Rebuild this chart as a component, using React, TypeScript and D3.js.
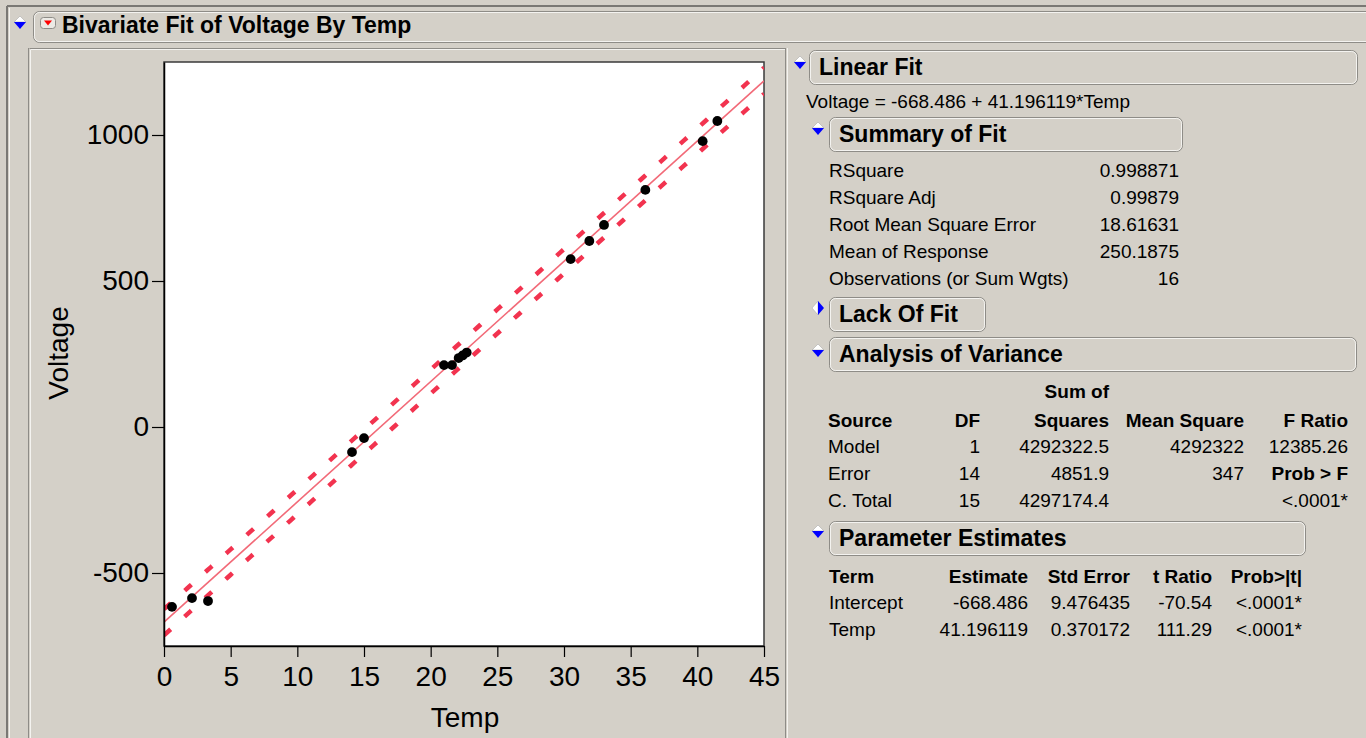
import { useRef, useEffect } from 'react';
import * as d3 from 'd3';

// observed points
const temp = [0.6, 2.1, 3.3, 14.1, 15.0, 21.0, 21.6, 22.1, 22.4, 22.7, 30.5, 31.9, 33.0, 36.1, 40.4, 41.5];
const voltage = [-616, -586, -596, -86, -38, 212, 212, 236, 245, 255, 575, 637, 692, 812, 979, 1048];

const xTicks = [0, 5, 10, 15, 20, 25, 30, 35, 40, 45];
const yTicks = [-500, 0, 500, 1000];

// report tables
const summaryLabels = ['RSquare', 'RSquare Adj', 'Root Mean Square Error', 'Mean of Response', 'Observations (or Sum Wgts)'];
const summaryValues = ['0.998871', '0.99879', '18.61631', '250.1875', '16'];

const anovaSources = ['Model', 'Error', 'C. Total'];
const anovaDF = ['1', '14', '15'];
const anovaSS = ['4292322.5', '4851.9', '4297174.4'];
const anovaMS = ['4292322', '347', ''];
const anovaF = ['12385.26', 'Prob > F', '<.0001*'];

const paramTerms = ['Intercept', 'Temp'];
const paramEstimates = ['-668.486', '41.196119'];
const paramStdErr = ['9.476435', '0.370172'];
const paramT = ['-70.54', '111.29'];
const paramProb = ['<.0001*', '<.0001*'];

const intercept = -668.486;
const slope = 41.196119;
const rmse = 18.61631;
const nObs = 16;
const meanResp = 250.1875;
const ssModel = 4292322.5;
const tCrit = 2.1448; // t(.975, 14)

const BG = '#d4d0c8';
const FONT = '"Liberation Sans", Arial, sans-serif';

function Disclosure({ cx, cy, open = true }: { cx: number; cy: number; open?: boolean }) {
  if (open) {
    return (
      <g>
        <polygon points={`${cx - 6},${cy} ${cx},${cy - 6} ${cx + 6},${cy}`} fill="#fff" stroke="#aaa" strokeWidth={0.6} />
        <polygon points={`${cx - 6},${cy} ${cx + 6},${cy} ${cx},${cy + 7}`} fill="#0000ff" />
      </g>
    );
  }
  return (
    <g>
      <polygon points={`${cx},${cy - 7} ${cx - 6},${cy} ${cx},${cy + 7}`} fill="#fff" stroke="#aaa" strokeWidth={0.6} />
      <polygon points={`${cx},${cy - 7} ${cx + 6},${cy} ${cx},${cy + 7}`} fill="#0000ff" />
    </g>
  );
}

function HeaderBox({ x, y, w, h, label, textX }: { x: number; y: number; w: number; h: number; label: string; textX?: number }) {
  return (
    <g>
      <rect x={x + 0.5} y={y + 0.5} width={w} height={h} rx={6} fill={BG} stroke="#8e8c87" />
      <rect x={x + 1.5} y={y + 1.5} width={w - 2} height={h - 2} rx={5} fill="none" stroke="#f4f3f0" />
      <text x={textX ?? x + 10} y={y + h - 9} fontFamily={FONT} fontWeight="bold" fontSize={23} fill="#000">{label}</text>
    </g>
  );
}

const txt = (x: number, y: number, s: string, anchor = 'start', bold = false) => (
  <text key={`${x}-${y}-${s}`} x={x} y={y} textAnchor={anchor} fontFamily={FONT} fontSize={19} fontWeight={bold ? 'bold' : 'normal'} fill="#000">{s}</text>
);

export default function App() {
  const plotRef = useRef<SVGGElement>(null);

  useEffect(() => {
    if (!plotRef.current) return;
    const g = d3.select(plotRef.current);
    g.selectAll('*').remove();

    const x = d3.scaleLinear().domain([0, 45]).range([164, 764]);
    const y = d3.scaleLinear().domain([-750, 1250]).range([646, 62]);

    // plot frame
    g.append('rect')
      .attr('x', 164).attr('y', 62)
      .attr('width', 600).attr('height', 584)
      .attr('fill', '#fff')
      .attr('stroke', '#3a3a3a').attr('stroke-width', 1.5);

    g.append('clipPath').attr('id', 'plotclip')
      .append('rect').attr('x', 164).attr('y', 62).attr('width', 600).attr('height', 584);

    const xbar = (meanResp - intercept) / slope;
    const sxx = ssModel / (slope * slope);
    const fit = (t: number) => intercept + slope * t;
    const half = (t: number) => tCrit * rmse * Math.sqrt(1 + 1 / nObs + (t - xbar) ** 2 / sxx);
    const xs = d3.range(0, 45.001, 0.25);

    const line = d3.line<number>().x(d => x(d));
    const clip = g.append('g').attr('clip-path', 'url(#plotclip)');

    // individual prediction bands
    [1, -1].forEach(sgn => {
      clip.append('path')
        .attr('d', line.y(d => y(fit(d) + sgn * half(d)))(xs))
        .attr('fill', 'none')
        .attr('stroke', '#f2334f')
        .attr('stroke-width', 4.5)
        .attr('stroke-dasharray', '9,18.8');
    });

    // fit line
    clip.append('path')
      .attr('d', line.y(d => y(fit(d)))([0, 45]))
      .attr('fill', 'none')
      .attr('stroke', '#f26a78')
      .attr('stroke-width', 1.6);

    // points
    clip.selectAll('circle')
      .data(temp.map((t, i) => [t, voltage[i]]))
      .join('circle')
      .attr('cx', d => x(d[0]))
      .attr('cy', d => y(d[1]))
      .attr('r', 4.9)
      .attr('fill', '#000');

    // axes
    g.append('g')
      .attr('transform', 'translate(164,0)')
      .call(d3.axisLeft(y).tickValues(yTicks).tickFormat(d => String(d)).tickSize(12).tickSizeOuter(0).tickPadding(3))
      .call(a => a.select('.domain').attr('stroke', '#000').attr('stroke-width', 1.5))
      .call(a => a.selectAll('.tick line').attr('stroke', '#000').attr('stroke-width', 1.2))
      .call(a => a.selectAll('.tick text').attr('fill', '#000').attr('font-size', '28px').attr('font-family', FONT));

    g.append('g')
      .attr('transform', 'translate(0,646)')
      .call(d3.axisBottom(x).tickValues(xTicks).tickFormat(d => String(d)).tickSize(11).tickSizeOuter(0).tickPadding(9))
      .call(a => a.select('.domain').attr('stroke', '#000').attr('stroke-width', 1.5))
      .call(a => a.selectAll('.tick line').attr('stroke', '#000').attr('stroke-width', 1.2))
      .call(a => a.selectAll('.tick text').attr('fill', '#000').attr('font-size', '28px').attr('font-family', FONT));

    // axis titles
    g.append('text')
      .attr('x', 465).attr('y', 727)
      .attr('text-anchor', 'middle')
      .attr('font-family', FONT).attr('font-size', 28)
      .text('Temp');

    g.append('text')
      .attr('transform', 'translate(68,353) rotate(-90)')
      .attr('text-anchor', 'middle')
      .attr('font-family', FONT).attr('font-size', 28)
      .text('Voltage');
  }, []);

  const summaryY = [177, 204, 231, 258, 285];
  const anovaY = [453, 480, 507];
  const paramY = [609, 636];

  return (
    <svg width={1366} height={738} style={{ position: 'absolute', left: 0, top: 0, display: 'block' }}>
      <rect width={1366} height={738} fill={BG} />

      {/* outer frame */}
      <line x1={7} y1={6} x2={1366} y2={6} stroke="#7a7874" strokeWidth={2} />
      <line x1={7} y1={6} x2={7} y2={738} stroke="#7a7874" strokeWidth={2} />
      <line x1={9.5} y1={8} x2={9.5} y2={738} stroke="#f4f3f0" />

      {/* title bar */}
      <Disclosure cx={20} cy={22} />
      <HeaderBox x={33} y={11} w={1345} h={31} label="Bivariate Fit of Voltage By Temp" textX={62} />
      <rect x={40.5} y={17.5} width={15} height={11} rx={3} fill="#eceae5" stroke="#8e8c87" />
      <polygon points="44,20.5 52,20.5 48,25.5" fill="#ff0000" />

      {/* plot panel */}
      <line x1={28.5} y1={48} x2={28.5} y2={738} stroke="#8e8c87" />
      <line x1={29.5} y1={48.5} x2={785} y2={48.5} stroke="#8e8c87" />
      <line x1={30.5} y1={50} x2={30.5} y2={738} stroke="#f4f3f0" />
      <line x1={30.5} y1={49.5} x2={785} y2={49.5} stroke="#f4f3f0" />
      <line x1={785.5} y1={48} x2={785.5} y2={738} stroke="#8e8c87" />
      <line x1={787.5} y1={48} x2={787.5} y2={738} stroke="#f4f3f0" />
      <g ref={plotRef} />

      {/* Linear Fit report */}
      <Disclosure cx={800} cy={62} />
      <HeaderBox x={809} y={50} w={548} h={34} label="Linear Fit" />
      {txt(806, 108, 'Voltage = -668.486 + 41.196119*Temp')}

      <Disclosure cx={818} cy={128} />
      <HeaderBox x={829} y={117} w={353} h={34} label="Summary of Fit" />
      {summaryLabels.map((l, i) => txt(829, summaryY[i], l))}
      {summaryValues.map((v, i) => txt(1179, summaryY[i], v, 'end'))}

      <Disclosure cx={818} cy={308} open={false} />
      <HeaderBox x={829} y={297} w={156} h={34} label="Lack Of Fit" />

      <Disclosure cx={818} cy={350} />
      <HeaderBox x={829} y={337} w={527} h={34} label="Analysis of Variance" />
      {txt(1109, 398, 'Sum of', 'end', true)}
      {txt(828, 427, 'Source', 'start', true)}
      {txt(980, 427, 'DF', 'end', true)}
      {txt(1109, 427, 'Squares', 'end', true)}
      {txt(1244, 427, 'Mean Square', 'end', true)}
      {txt(1348, 427, 'F Ratio', 'end', true)}
      {anovaSources.map((s, i) => txt(828, anovaY[i], s))}
      {anovaDF.map((s, i) => txt(980, anovaY[i], s, 'end'))}
      {anovaSS.map((s, i) => txt(1109, anovaY[i], s, 'end'))}
      {anovaMS.map((s, i) => txt(1244, anovaY[i], s, 'end'))}
      {anovaF.map((s, i) => txt(1348, anovaY[i], s, 'end', s === 'Prob > F'))}

      <Disclosure cx={818} cy={531} />
      <HeaderBox x={829} y={521} w={476} h={34} label="Parameter Estimates" />
      {txt(829, 583, 'Term', 'start', true)}
      {txt(1028, 583, 'Estimate', 'end', true)}
      {txt(1130, 583, 'Std Error', 'end', true)}
      {txt(1212, 583, 't Ratio', 'end', true)}
      {txt(1302, 583, 'Prob>|t|', 'end', true)}
      {paramTerms.map((s, i) => txt(829, paramY[i], s))}
      {paramEstimates.map((s, i) => txt(1028, paramY[i], s, 'end'))}
      {paramStdErr.map((s, i) => txt(1130, paramY[i], s, 'end'))}
      {paramT.map((s, i) => txt(1212, paramY[i], s, 'end'))}
      {paramProb.map((s, i) => txt(1302, paramY[i], s, 'end'))}
    </svg>
  );
}
